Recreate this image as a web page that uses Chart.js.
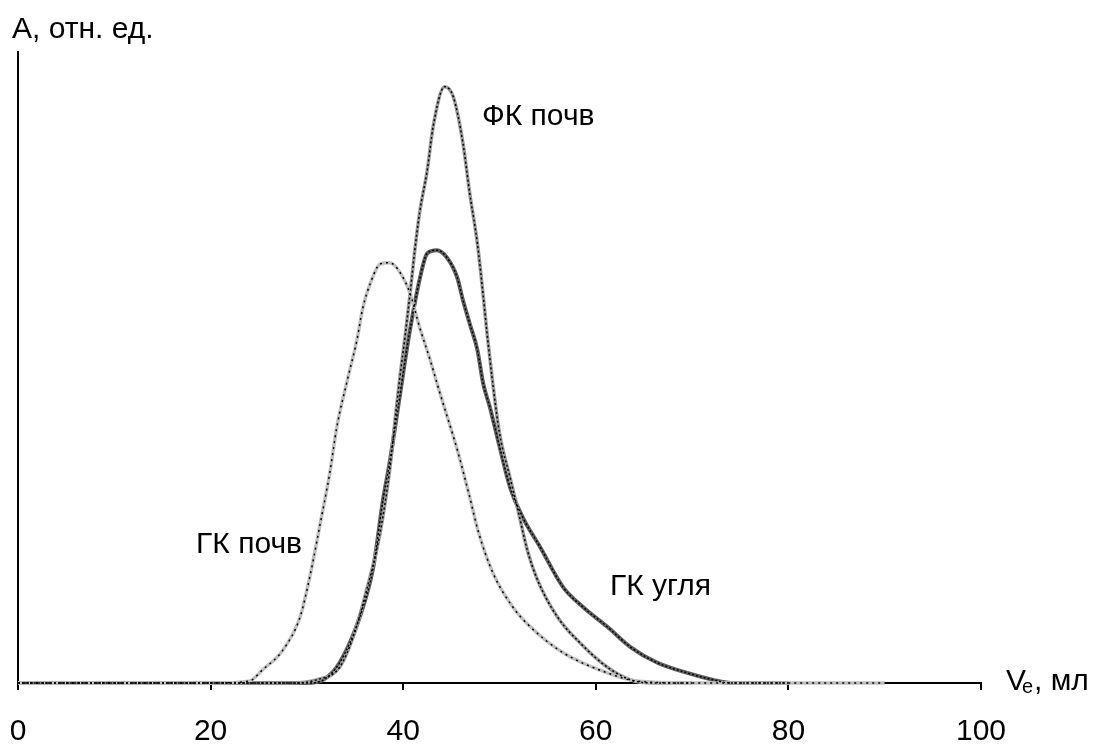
<!DOCTYPE html>
<html>
<head>
<meta charset="utf-8">
<script src="https://cdn.jsdelivr.net/npm/chart.js@4/dist/chart.umd.min.js"></script>
<style>
  html, body { margin: 0; padding: 0; background: #fff; }
  #wrap { width: 1098px; height: 744px; }
</style>
</head>
<body>
<div id="wrap"><canvas id="myChart" width="1098" height="744"></canvas></div>
<script>
// x axis ticks (Ve, мл)
var xTicks = [0, 20, 40, 60, 80, 100];

// ГК почв
var gkSoilX = [0, 10, 20, 24, 25.4, 27.5, 29.3, 30.3, 31.4, 32.4, 33.1, 34.2, 35.2, 35.8, 36.6, 37.6, 38.6, 39.7, 40.7, 41.7, 42.8, 43.8, 44.9, 45.7, 46.9, 47.8, 49.3, 51.4, 53.2, 56.6, 61.2, 64.3, 70, 80, 90];
var gkSoilY = [0, 0, 0, 0.3, 2.1, 5.2, 10.5, 16.8, 25.4, 33.5, 40.5, 48, 54.4, 59.4, 63.4, 66.4, 66.6, 65, 61.8, 56.4, 51.2, 46, 40.6, 36.5, 29.5, 24, 17.5, 12, 8.9, 4.8, 1.6, 0.3, 0, 0, 0];

// ФК почв
var fkSoilX = [0, 10, 20, 28, 31, 33.4, 34.8, 36.2, 37.6, 38.6, 39.3, 39.7, 40.2, 40.7, 41.2, 41.7, 42.5, 43.1, 44.3, 45.2, 46.2, 46.9, 47.7, 48.3, 48.7, 49.3, 50, 51.1, 51.9, 52.9, 53.9, 56, 58.4, 61.2, 63.6, 66, 70];
var fkSoilY = [0, 0, 0, 0, 0.5, 2.5, 7.3, 14.7, 23.8, 33.8, 43.7, 49, 55, 61.5, 68.5, 74.5, 81.3, 88.1, 94.5, 92.9, 85.6, 77.7, 69.7, 61.5, 55.5, 47.5, 39.6, 32.5, 27.5, 21, 16.5, 10.5, 6.3, 2.5, 0.5, 0, 0];

// ГК угля
var gkCoalX = [0, 10, 20, 30, 31.7, 33.4, 35.5, 36.9, 37.9, 38.6, 39.6, 40.6, 41.7, 42.5, 43.5, 44.5, 45.6, 46.2, 46.9, 47.7, 48.3, 49, 50, 51.1, 52.4, 54.2, 56.6, 58.7, 61.2, 63.6, 66.4, 69.5, 72.2, 74, 80];
var gkCoalY = [0, 0, 0, 0, 0.5, 3.2, 10.5, 18.4, 29, 35, 45, 55, 63.9, 68.1, 68.6, 67.5, 64.3, 60.7, 57, 52.8, 47.5, 43.7, 37.5, 31, 26.3, 21.6, 15.2, 12, 8.9, 5.7, 3.2, 1.6, 0.5, 0, 0];

var FONT = '"Liberation Sans", Arial, sans-serif';

function pts(xs, ys) {
    var out = [];
    for (var i = 0; i < xs.length; i++) out.push({ x: xs[i], y: ys[i] });
    return out;
}

// order: lower number is drawn on top
function line(data, color, width, dash, order) {
    return {
        data: data,
        borderColor: color,
        borderWidth: width,
        borderDash: dash,
        order: order,
        pointRadius: 0,
        fill: false,
        clip: 4,
        cubicInterpolationMode: 'monotone'
    };
}

// text on the picture
var labelsPlugin = {
    id: 'labels',
    afterDraw: function (chart) {
        var ctx = chart.ctx;
        ctx.save();
        ctx.fillStyle = '#000';
        ctx.textBaseline = 'alphabetic';
        ctx.font = '30px ' + FONT;
        ctx.textAlign = 'left';
        ctx.fillText('А, отн. ед.', 12, 38);
        ctx.fillText('ФК почв', 482, 125);
        ctx.fillText('ГК угля', 610, 595);
        ctx.textAlign = 'right';
        ctx.fillText('ГК почв', 302, 553);
        ctx.textAlign = 'left';
        ctx.fillText('V', 1006, 690);
        ctx.font = '20px ' + FONT;
        ctx.fillText('e', 1022, 693);
        ctx.font = '30px ' + FONT;
        ctx.fillText(', мл', 1034, 690);
        ctx.restore();
    }
};

var ctx = document.getElementById('myChart').getContext('2d');
var myChart = new Chart(ctx, {
    type: 'line',
    data: {
        datasets: [
            line(pts(gkSoilX, gkSoilY), '#000', 1.5, [2, 4], 0),
            line(pts(fkSoilX, fkSoilY), '#000', 1.5, [2, 2.5], 0),
            line(pts(gkCoalX, gkCoalY), '#000', 1.5, [2, 2], 0),
            line(pts(gkSoilX, gkSoilY), '#c0c0c0', 3.5, [], 1),
            line(pts(fkSoilX, fkSoilY), '#9a9a9a', 3.5, [], 1),
            line(pts(gkCoalX, gkCoalY), '#606060', 4, [], 1)
        ]
    },
    options: {
        responsive: false,
        animation: false,
        layout: { padding: { left: 18, right: 117, top: 52, bottom: 2 } },
        plugins: {
            legend: { display: false },
            tooltip: { enabled: false },
            title: { display: false }
        },
        scales: {
            x: {
                type: 'linear',
                min: 0,
                max: 100,
                afterBuildTicks: function (scale) {
                    scale.ticks = xTicks.map(function (v) { return { value: v }; });
                },
                afterFit: function (scale) {
                    scale.height = 59;
                    scale.paddingLeft = 0;
                    scale.paddingRight = 0;
                },
                ticks: {
                    color: '#000',
                    padding: 31,
                    maxRotation: 0,
                    font: { family: FONT, size: 30, lineHeight: 0.7 }
                },
                grid: {
                    drawOnChartArea: false,
                    drawTicks: true,
                    tickLength: 7,
                    color: '#000',
                    lineWidth: 2
                },
                border: { display: true, color: '#000', width: 2 }
            },
            y: {
                min: 0,
                max: 100,
                afterFit: function (scale) {
                    scale.width = 0;
                },
                ticks: { display: false },
                grid: { display: false, drawTicks: false },
                border: { display: true, color: '#000', width: 2 }
            }
        }
    },
    plugins: [labelsPlugin]
});
</script>
</body>
</html>
